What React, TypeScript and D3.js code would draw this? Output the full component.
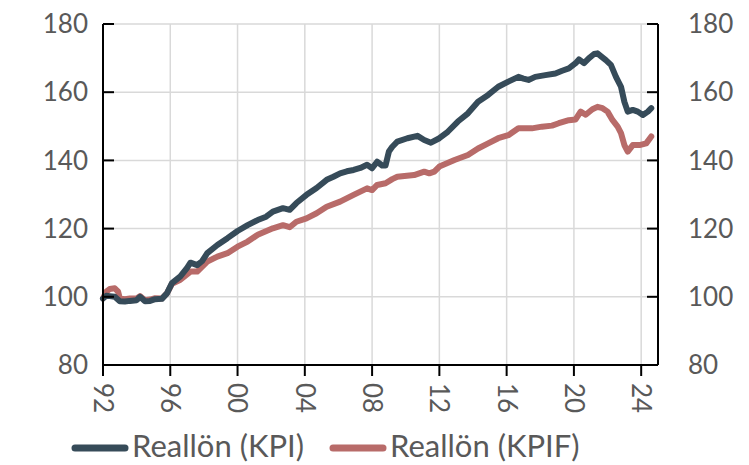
import * as d3 from "d3";

const kpiYears = [
  1992.0, 1992.2, 1992.4, 1992.7, 1993.0, 1993.3, 1993.6, 1994.0, 1994.2, 1994.5,
  1994.8, 1995.1, 1995.5, 1995.8, 1996.1, 1996.6, 1997.0, 1997.2, 1997.6, 1997.9,
  1998.2, 1998.8, 1999.4, 2000.0, 2000.6, 2001.2, 2001.7, 2002.1, 2002.7, 2003.1,
  2003.5, 2004.1, 2004.7, 2005.3, 2005.7, 2006.1, 2006.5, 2006.9, 2007.3, 2007.7,
  2008.0, 2008.3, 2008.6, 2008.8, 2009.0, 2009.2, 2009.5, 2010.1, 2010.7, 2011.1,
  2011.5, 2012.0, 2012.5, 2013.1, 2013.7, 2014.3, 2014.9, 2015.5, 2016.1, 2016.7,
  2017.0, 2017.3, 2017.7, 2018.3, 2018.9, 2019.3, 2019.7, 2020.1, 2020.3, 2020.6,
  2020.9, 2021.2, 2021.4, 2021.6, 2021.9, 2022.2, 2022.5, 2022.8, 2023.0, 2023.2,
  2023.5, 2023.8, 2024.1, 2024.4, 2024.6,
];
const kpiValues = [
  99.5, 100.3, 100.2, 100.0, 98.7, 98.6, 98.8, 99.0, 100.0, 98.7,
  98.8, 99.3, 99.4, 101.0, 104.0, 106.0, 108.5, 110.0, 109.3, 110.5,
  112.8, 115.2, 117.2, 119.3, 121.0, 122.5, 123.5, 125.0, 126.0, 125.5,
  127.5, 129.9, 131.9, 134.3, 135.2, 136.2, 136.8, 137.2, 137.8, 138.7,
  137.7, 139.6, 138.5, 138.5, 142.6, 144.0, 145.5, 146.5, 147.2, 146.0,
  145.2, 146.5, 148.4, 151.4, 153.8, 157.2, 159.2, 161.6, 163.1, 164.5,
  164.0, 163.6, 164.5, 165.0, 165.5, 166.3, 167.0, 168.5, 169.6, 168.5,
  170.0, 171.2, 171.4, 170.6, 169.4, 168.0, 164.5, 161.6, 157.2, 154.3,
  154.8, 154.3, 153.3, 154.3, 155.3,
];

const kpifYears = [
  1992.0, 1992.2, 1992.4, 1992.7, 1992.9, 1993.0, 1993.3, 1993.6, 1994.0, 1994.2,
  1994.5, 1994.8, 1995.1, 1995.5, 1995.8, 1996.1, 1996.6, 1997.2, 1997.6, 1998.2,
  1998.8, 1999.4, 2000.0, 2000.6, 2001.2, 2002.1, 2002.7, 2003.1, 2003.5, 2004.1,
  2004.7, 2005.3, 2006.1, 2006.9, 2007.7, 2008.0, 2008.3, 2008.8, 2009.2, 2009.5,
  2010.5, 2011.1, 2011.4, 2011.7, 2012.0, 2012.9, 2013.7, 2014.3, 2014.9, 2015.5,
  2016.1, 2016.7, 2017.5, 2018.1, 2018.7, 2019.1, 2019.7, 2020.1, 2020.4, 2020.7,
  2021.1, 2021.4, 2021.7, 2022.0, 2022.3, 2022.6, 2022.8, 2023.0, 2023.2, 2023.5,
  2023.9, 2024.3, 2024.6,
];
const kpifValues = [
  99.5, 101.5, 102.3, 102.5, 101.5, 99.5, 99.3, 99.5, 99.5, 100.2,
  99.0, 99.2, 99.6, 99.5, 101.0, 103.8, 105.0, 107.4, 107.4, 110.3,
  111.8, 112.8, 114.7, 116.2, 118.2, 120.1, 121.0, 120.4, 122.0, 123.0,
  124.5, 126.4, 127.9, 129.9, 131.8, 131.3, 132.8, 133.3, 134.5, 135.2,
  135.7, 136.7, 136.2, 136.7, 138.2, 140.1, 141.6, 143.5, 145.0, 146.5,
  147.4, 149.4, 149.4, 149.9, 150.2, 150.9, 151.8, 152.0, 154.3, 153.4,
  155.0, 155.7, 155.3, 154.3, 151.8, 149.9, 148.0, 144.5, 142.6, 144.5,
  144.5, 145.0, 147.0,
];

const yTicks = [80, 100, 120, 140, 160, 180];
const xTicks = [1992, 1996, 2000, 2004, 2008, 2012, 2016, 2020, 2024];
const seriesNames = ["Reallön (KPI)", "Reallön (KPIF)"];
const colors = ["#364b59", "#b86b69"];

const W = 749;
const H = 465;
const left = 103;
const right = 658;
const top = 24;
const bottom = 365;
const font = "Lato, 'Open Sans', sans-serif";
const textColor = "#595959";

export default function App() {
  const x = d3.scaleLinear().domain([1992, 2025]).range([left, right]);
  const y = d3.scaleLinear().domain([80, 180]).range([bottom, top]);
  const line = d3
    .line<[number, number]>()
    .x((d) => x(d[0]))
    .y((d) => y(d[1]));

  const kpi = kpiYears.map((t, i) => [t, kpiValues[i]] as [number, number]);
  const kpif = kpifYears.map((t, i) => [t, kpifValues[i]] as [number, number]);

  // legend placement: swatch start x for each entry
  const legendX = [72, 330];
  const legendY = 446;

  return (
    <div style={{ position: "fixed", left: 0, top: 0 }}>
      <svg width={W} height={H} style={{ display: "block", background: "#fff" }}>
        {/* grid */}
        {yTicks.filter((v) => v > 80).map((v) => (
          <line key={"gy" + v} x1={left} x2={right} y1={y(v)} y2={y(v)} stroke="#d9d9d9" strokeWidth={1.5} />
        ))}
        {xTicks.filter((t) => t > 1992).map((t) => (
          <line key={"gx" + t} x1={x(t)} x2={x(t)} y1={top} y2={bottom} stroke="#d9d9d9" strokeWidth={1.5} />
        ))}

        {/* series */}
        <path d={line(kpif) ?? ""} fill="none" stroke={colors[1]} strokeWidth={6} strokeLinejoin="round" strokeLinecap="round" />
        <path d={line(kpi) ?? ""} fill="none" stroke={colors[0]} strokeWidth={6} strokeLinejoin="round" strokeLinecap="round" />

        {/* axes */}
        <line x1={left} x2={left} y1={top} y2={bottom} stroke="#000" strokeWidth={2} />
        <line x1={right} x2={right} y1={top} y2={bottom} stroke="#000" strokeWidth={2} />
        <line x1={left} x2={right} y1={bottom} y2={bottom} stroke="#000" strokeWidth={2} />
        {yTicks.map((v) => (
          <g key={"ty" + v}>
            <line x1={left} x2={left + 11} y1={y(v)} y2={y(v)} stroke="#000" strokeWidth={2} />
            <line x1={right - 11} x2={right} y1={y(v)} y2={y(v)} stroke="#000" strokeWidth={2} />
            <text x={left - 15} y={y(v)} dy="0.35em" textAnchor="end" fontFamily={font} fontSize={26} fill={textColor}>
              {v}
            </text>
            <text x={right + 30} y={y(v)} dy="0.35em" textAnchor="start" fontFamily={font} fontSize={26} fill={textColor}>
              {v}
            </text>
          </g>
        ))}
        {xTicks.map((t) => (
          <g key={"tx" + t}>
            <line x1={x(t)} x2={x(t)} y1={bottom} y2={bottom + 11} stroke="#000" strokeWidth={2} />
            <text
              transform={`translate(${x(t)},${bottom + 18}) rotate(90)`}
              dy="0.35em"
              textAnchor="start"
              fontFamily={font}
              fontSize={26}
              fill={textColor}
            >
              {d3.format("02")(t % 100)}
            </text>
          </g>
        ))}

        {/* legend */}
        {seriesNames.map((name, i) => {
          const lx = legendX[i];
          return (
            <g key={name}>
              <line x1={lx + 3} x2={lx + 53} y1={legendY + 2} y2={legendY + 2} stroke={colors[i]} strokeWidth={7} strokeLinecap="round" />
              <text x={lx + 60} y={legendY} dy="0.35em" fontFamily={font} fontSize={31} fill={textColor}>
                {name}
              </text>
            </g>
          );
        })}
      </svg>
    </div>
  );
}
